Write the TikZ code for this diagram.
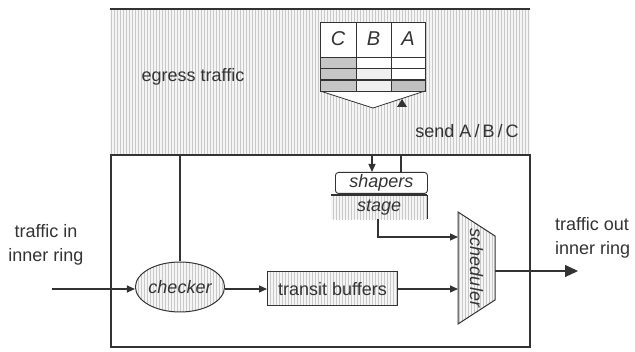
\documentclass[tikz,border=0pt]{standalone}
\usepackage{fontspec}
\setmainfont{Liberation Sans}
\usetikzlibrary{patterns,arrows.meta,shapes.geometric}
\definecolor{ink}{HTML}{333333}
\tikzset{
  hatch/.style={preaction={fill=gray!8},pattern=vertical lines,pattern color=gray!42},
  ln/.style={draw=ink,line width=1.2pt},
  arr/.style={ln,-{Triangle[length=8pt,width=7pt]}},
  lbl/.style={text=ink,font=\fontsize{18}{24}\selectfont,inner sep=0pt},
  ilbl/.style={lbl,font=\fontsize{18}{24}\selectfont\itshape},
  tlbl/.style={lbl,font=\fontsize{20}{24}\selectfont\itshape},
}
\begin{document}
\begin{tikzpicture}[x=1pt,y=-1pt]
\useasboundingbox (0,0) rectangle (635,352);
% egress region
\fill[hatch] (110,9) rectangle (530,155);
\draw[ink,line width=2pt] (110,9) -- (530,9);
% outer box
\draw[ln] (111,155) -- (111,347) -- (530,347) -- (530,155);
\draw[ln] (110,155) -- (531,155);
\node[lbl] (egress) at (193,77) {egress traffic};
\node[lbl] (send) at (467,131) {send A\,/\,B\,/\,C};
% table
\fill[white] (320,22) rectangle (425,57);
\fill[gray!45] (320,57) rectangle (356,91);
\fill[white] (356,57) rectangle (425,80);
\fill[gray!12] (356,68) rectangle (391,91);
\fill[gray!50] (391,80) rectangle (425,91);
\fill[white] (320,91) -- (425,91) -- (373,108) -- cycle;
\draw[ink,line width=0.8pt] (320,22) rectangle (425,91);
\draw[ink,line width=0.8pt] (356,22) -- (356,91) (391,22) -- (391,91)
  (320,57) -- (425,57) (320,68) -- (425,68);
\draw[ink,line width=1.4pt] (320,80) -- (425,80);
\draw[ink,line width=0.8pt] (320,91) -- (373,108) -- (425,91);
\node[tlbl] (tC) at (338,39) {C};
\node[tlbl] (tB) at (373.5,39) {B};
\node[tlbl] (tA) at (408,39) {A};
\fill[ink] (402,99) -- (407,107) -- (397,107) -- cycle;
% shapers and stage
\node[draw=ink,line width=0.9pt,rounded corners=3pt,fill=white,minimum width=92pt,minimum height=21pt,ilbl,anchor=north west] (shapers) at (335,172) {shapers};
\node[hatch,minimum width=96pt,minimum height=24pt,ilbl,anchor=north west] (stage) at (331,195) {stage};
\draw[ink,line width=1.2pt] (stage.north west) -- (stage.north east);
\draw[ink,line width=0.8pt] (stage.north east) -- (stage.south east);
\coordinate (e1) at (372,155);
\coordinate (e2) at (401,155);
\draw[arr] (e1) -- (e1 |- shapers.north);
\draw[ln] (e2) -- (e2 |- shapers.north);
% scheduler
\path[hatch,draw=ink,line width=1pt] (458,212) -- (495,236) -- (495,300) -- (458,324) -- cycle;
\node[ilbl,rotate=-90] (sched) at (476.5,268) {scheduler};
\coordinate (sIn1) at (458,237);
\coordinate (sIn2) at (458,289);
\coordinate (sOut) at (495,271);
\draw[arr] (stage.south -| 378,0) |- (sIn1);
% checker and transit
\node[ellipse,draw=ink,line width=1pt,hatch,minimum width=76pt,minimum height=50pt,inner sep=0pt,ilbl] (checker) at (180,287) {checker};
\node[draw=ink,line width=1pt,hatch,minimum width=130pt,minimum height=34pt,lbl,anchor=west] (transit) at (267,289) {transit buffers};
\coordinate (cTop) at (180,155);
\draw[ln] (cTop) -- (checker.north);
\draw[arr] (checker.east |- transit.west) -- (transit.west);
\draw[arr] (transit.east) -- (sIn2);
% in / out
\coordinate (inL) at (52,289);
\draw[arr] (inL) -- (checker.west |- inL);
\node[lbl,align=center] (tin) at (46,245) {traffic in\\inner ring};
\coordinate (outR) at (578,271);
\draw[ln,-{Triangle[length=13pt,width=12pt]}] (sOut) -- (outR);
\node[lbl,align=left,anchor=west] (tout) at (555,238) {traffic out\\inner ring};
\end{tikzpicture}
\end{document}
